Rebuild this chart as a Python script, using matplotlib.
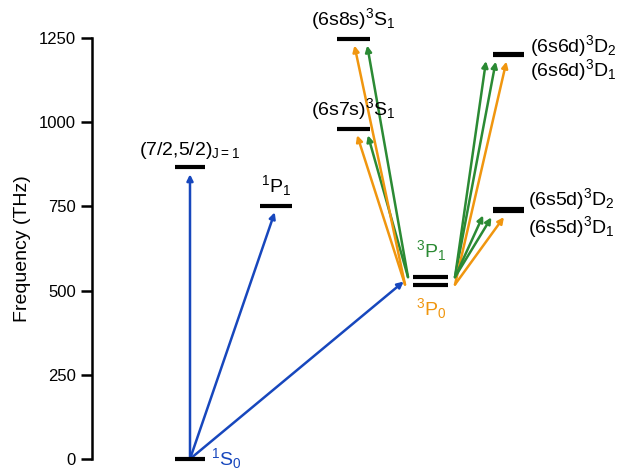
import matplotlib
matplotlib.use('Agg')
from matplotlib import pyplot as plt

plt.rcParams['font.family'] = ['Liberation Sans', 'DejaVu Sans']
plt.rcParams['mathtext.fontset'] = 'custom'
plt.rcParams['mathtext.rm'] = 'Liberation Sans'
plt.rcParams['mathtext.it'] = 'Liberation Sans:italic'
plt.rcParams['mathtext.bf'] = 'Liberation Sans:bold'

####################
# data : level frequencies (THz)
####################

level_names = ['1S0', 'J1', '1P1', '3P0', '3P1', '6s7s', '6s8s',
               '6s5d_1', '6s5d_2', '6s6d_1', '6s6d_2']
level_freqs = [0, 866, 752, 518, 540, 981, 1248, 735, 742, 1200, 1202]

# transitions : (from, to)
trans_from = ['1S0', '1S0', '1S0',
              '3P0', '3P1', '3P0', '3P1',
              '3P1', '3P1', '3P0', '3P1', '3P1', '3P0']
trans_to = ['J1', '1P1', '3P1',
            '6s7s', '6s7s', '6s8s', '6s8s',
            '6s6d_2', '6s6d_1', '6s6d_1', '6s5d_2', '6s5d_1', '6s5d_1']

tick_values = [0, 250, 500, 750, 1000, 1250]

####################
# layout
####################

blue = '#1747bd'
green = '#2b8a34'
orange = '#f0960f'

# x extent of each level bar (layout only)
level_span = {'1S0': (175, 205), 'J1': (175, 205), '1P1': (260, 292),
              '3P0': (413, 448), '3P1': (413, 448),
              '6s7s': (337, 370), '6s8s': (337, 370),
              '6s5d_1': (493, 524), '6s5d_2': (493, 524),
              '6s6d_1': (493, 524), '6s6d_2': (493, 524)}

# arrow start / end x positions (layout only)
arrow_x = [(190, 190), (190, 277), (190, 409),
           (405, 355), (408, 366), (405, 353), (408, 366),
           (455, 487), (455, 497), (455, 508), (455, 486), (455, 495), (455, 508)]

freq = dict(zip(level_names, level_freqs))

fig = plt.figure(figsize=(6.41, 4.70), dpi=100)
ax = fig.add_axes([92 / 641, 11 / 470, (641 - 92) / 641, 421 / 470])
ax.set_xlim(92, 641)
ax.set_ylim(0, 1250)

for name in level_names:
    x0, x1 = level_span[name]
    ax.plot([x0, x1], [freq[name], freq[name]], color='black', lw=3,
            solid_capstyle='butt', clip_on=False, zorder=3)

for i in range(len(trans_from)):
    f0 = freq[trans_from[i]]
    f1 = freq[trans_to[i]]
    if trans_from[i] == '1S0':
        c = blue
    elif trans_from[i] == '3P0':
        c = orange
    else:
        c = green
    xs, xe = arrow_x[i]
    ax.annotate('', xy=(xe, f1), xytext=(xs, f0),
                arrowprops=dict(arrowstyle='-|>', color=c, lw=1.8,
                                mutation_scale=9, shrinkA=0, shrinkB=5),
                annotation_clip=False, zorder=2)

####################
# labels
####################

fs = 14
ax.text(190, freq['J1'] + 20, '(7/2,5/2)$_{\\mathrm{J=1}}$', ha='center', va='bottom', fontsize=fs)
ax.text(276, freq['1P1'] + 22, '$^1$P$_1$', ha='center', va='bottom', fontsize=fs)
ax.text(353, freq['6s8s'] + 20, '(6s8s)$^3$S$_1$', ha='center', va='bottom', fontsize=fs)
ax.text(353, freq['6s7s'] + 20, '(6s7s)$^3$S$_1$', ha='center', va='bottom', fontsize=fs)
ax.text(530, freq['6s6d_2'] + 25, '(6s6d)$^3$D$_2$', ha='left', va='center', fontsize=fs)
ax.text(530, freq['6s6d_1'] - 45, '(6s6d)$^3$D$_1$', ha='left', va='center', fontsize=fs)
ax.text(528, freq['6s5d_2'] + 30, '(6s5d)$^3$D$_2$', ha='left', va='center', fontsize=fs)
ax.text(528, freq['6s5d_1'] - 45, '(6s5d)$^3$D$_1$', ha='left', va='center', fontsize=fs)
ax.text(431, freq['3P1'] + 80, '$^3$P$_1$', ha='center', va='center', fontsize=fs, color=green)
ax.text(431, freq['3P0'] - 70, '$^3$P$_0$', ha='center', va='center', fontsize=fs, color=orange)
ax.text(211, freq['1S0'] + 2, '$^1$S$_0$', ha='left', va='center', fontsize=fs, color=blue)

####################
# axis
####################

for s in ['top', 'right', 'bottom']:
    ax.spines[s].set_visible(False)
ax.spines['left'].set_linewidth(1.8)
ax.set_xticks([])
ax.set_yticks(tick_values)
ax.tick_params(axis='y', length=8, width=1.8, labelsize=12)
ax.set_ylabel('Frequency (THz)', fontsize=14, labelpad=6)

plt.savefig('out.png', dpi=100)
